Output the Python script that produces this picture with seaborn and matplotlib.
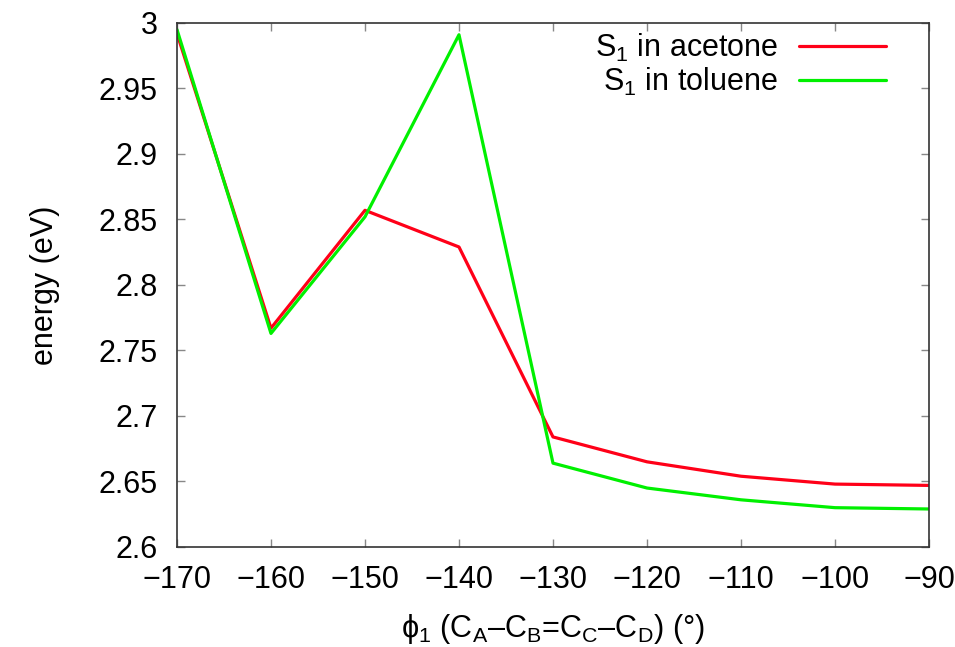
import matplotlib
matplotlib.use("Agg")
import matplotlib.pyplot as plt
import seaborn as sns
import pandas as pd

angles = [-170, -160, -150, -140, -130, -120, -110, -100, -90]
acetone = [2.992, 2.767, 2.857, 2.829, 2.684, 2.665, 2.654, 2.648, 2.647]
toluene = [2.995, 2.763, 2.852, 2.991, 2.664, 2.645, 2.636, 2.630, 2.629]
labels = ["S$_1$ in acetone", "S$_1$ in toluene"]
colors = ["#ff0018", "#00f000"]

df = pd.DataFrame({
    "angle": angles * 2,
    "energy": acetone + toluene,
    "series": [labels[0]] * len(angles) + [labels[1]] * len(angles),
})

sns.set_style("ticks")
plt.rcParams["font.family"] = ["Liberation Sans", "DejaVu Sans"]
plt.rcParams["mathtext.fontset"] = "custom"
plt.rcParams["mathtext.rm"] = "Liberation Sans"
plt.rcParams["mathtext.it"] = "Liberation Sans"
plt.rcParams["mathtext.bf"] = "Liberation Sans:bold"
plt.rcParams["text.color"] = "black"
plt.rcParams["axes.labelcolor"] = "black"

FS = 22

fig = plt.figure(figsize=(9.55, 6.47), dpi=100)
ax = fig.add_axes([0.1853, 0.1546, 0.7875, 0.8099])

sns.lineplot(data=df, x="angle", y="energy", hue="series",
             palette=dict(zip(labels, colors)), linewidth=2.3, ax=ax)

ax.set_xlim(-170, -90)
ax.set_ylim(2.6, 3.0)
ax.set_xticks(angles)
ax.set_xticklabels([f"\u2212{abs(a)}" for a in angles])
yt = [2.6, 2.65, 2.7, 2.75, 2.8, 2.85, 2.9, 2.95, 3.0]
ax.set_yticks(yt)
ax.set_yticklabels(["2.6", "2.65", "2.7", "2.75", "2.8", "2.85", "2.9", "2.95", "3"])

ax.tick_params(axis="both", direction="in", length=6, width=1, color="#888888",
               top=True, right=True, labelsize=FS, labelcolor="black")
ax.tick_params(axis="y", pad=14)
ax.tick_params(axis="x", pad=13)
for s in ax.spines.values():
    s.set_color("#333333")
    s.set_linewidth(1.2)
    s.set_visible(True)

ax.set_ylabel("energy (eV)", fontsize=FS, labelpad=28)
ax.set_xlabel("$\\mathrm{\\phi}_1$ (C$_\\mathrm{A}$\u2013C$_\\mathrm{B}$=C$_\\mathrm{C}$\u2013C$_\\mathrm{D}$) (°)",
              fontsize=FS, labelpad=12)

leg = ax.legend(loc="upper right", bbox_to_anchor=(0.98, 1.035), frameon=False,
                markerfirst=False, fontsize=FS, handlelength=2.85,
                labelspacing=0.05, handletextpad=0.7)
for line in leg.get_lines():
    line.set_linewidth(2.3)

fig.savefig("out.png", dpi=100)
